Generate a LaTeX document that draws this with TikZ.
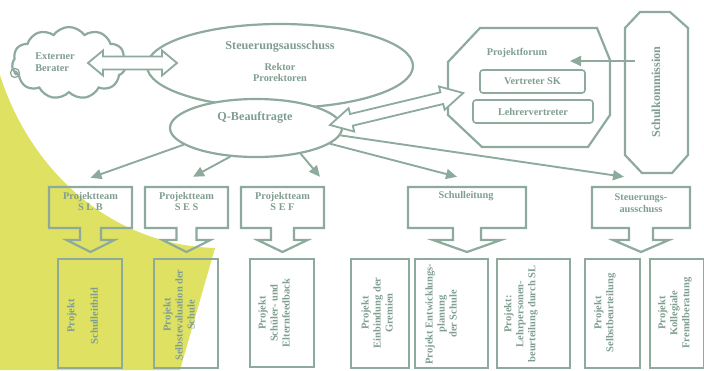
\documentclass[tikz,border=0pt]{standalone}
\usepackage{fontspec}
\setmainfont{Liberation Serif}
\usetikzlibrary{shapes.symbols,shapes.geometric,arrows.meta,calc}
\definecolor{lg}{HTML}{8DAA9D}
\definecolor{tg}{HTML}{7F9E90}
\definecolor{yel}{HTML}{DFE163}
\newcommand\teamshape[4]{% xl, xr, stem half, head half
  \pgfmathsetmacro\cx{(#1+#2)/2}
  \draw[shape line] (#1,187) -- (#2,187) -- (#2,228) -- (\cx+#3,228) -- (\cx+#3,240) -- (\cx+#4,240) -- (\cx,252) -- (\cx-#4,240) -- (\cx-#3,240) -- (\cx-#3,228) -- (#1,228) -- cycle;}
\begin{document}
\begin{tikzpicture}[x=1pt,y=-1pt,
  shape line/.style={draw=lg, line width=2.2pt, line join=miter},
  conn/.style={draw=lg, line width=1.9pt, -{Triangle[length=11pt,width=10pt]}},
  txt/.style={text=tg, font=\fontsize{10.3}{11.5}\selectfont\bfseries, inner sep=0pt, align=center},
  bigtxt/.style={txt, font=\fontsize{12.2}{14}\selectfont\bfseries},
  vtxt/.style={txt, rotate=90, font=\fontsize{10.5}{12}\selectfont\bfseries},
  teambox/.style={minimum width=#1, minimum height=41pt, inner sep=0pt},
  projbox/.style={shape line, minimum width=#1, minimum height=109pt, inner sep=0pt, anchor=north west}
]
\useasboundingbox (0,0) rectangle (704,370);
% yellow background shape
\fill[yel] (0,75) .. controls (30,170) and (110,245) .. (215,248) -- (180,370) -- (0,370) -- cycle;

% Steuerungsausschuss ellipse
\node[ellipse, shape line, fill=white, minimum width=266pt, minimum height=84pt] (sa) at (280,66) {};
\node[bigtxt] (satitle) at (280,47) {Steuerungsausschuss};
\node[txt] (rektor) at (280,67) {Rektor};
\node[txt] (prorekt) at (280,78) {Prorektoren};

% Q-Beauftragte ellipse
\node[ellipse, shape line, fill=white, minimum width=172pt, minimum height=58pt] (q) at (256,128) {};
\node[bigtxt] (qtitle) at (255,118) {Q-Beauftragte};

% cloud
\node[cloud, shape line, cloud puffs=11, cloud puff arc=110, aspect=1.6, minimum width=114pt, minimum height=72pt, fill=white] (cloud) at (69,63) {};
\node[txt, align=left] (ext) at (55,62) {Externer\\Berater};
\draw[lg, line width=1.3pt] (15,73) circle (4.5);
\draw[lg, line width=1.1pt] (16,73) circle (1.8);

% double arrow cloud <-> Steuerungsausschuss
\draw[shape line, line width=1.8pt, fill=white] (88,63) -- (103,50.5) -- (103,56.5) -- (162,56.5) -- (162,50.5) -- (177,63) -- (162,75.5) -- (162,69.5) -- (103,69.5) -- (103,75.5) -- cycle;

% Projektforum octagon
\draw[shape line] (480,28) -- (597,28) -- (610,60) -- (610,115) -- (588,147) -- (482,147) -- (448,115) -- (448,62) -- cycle;
\node[txt] (pftitle) at (517,53) {Projektforum};
\node[txt, draw=lg, line width=1.6pt, rounded corners=3pt, minimum width=105pt, minimum height=23pt] (vsk) at (532.5,81.5) {Vertreter SK};
\node[txt, draw=lg, line width=1.6pt, rounded corners=3pt, minimum width=120pt, minimum height=23pt] (lv) at (533,111.5) {Lehrervertreter};

% double arrow Q <-> Projektforum
\draw[shape line, line width=1.8pt, fill=white, shift={(330,125)}, rotate=13.5] (0,0) -- (22,-12) -- (22,-6) -- (115,-6) -- (115,-12) -- (137,0) -- (115,12) -- (115,6) -- (22,6) -- (22,12) -- cycle;

% Schulkommission
\draw[shape line] (640,12) -- (670,12) -- (688,28) -- (688,155) -- (672,173) -- (642,173) -- (625,155) -- (625,28) -- cycle;
\node[bigtxt, rotate=90] (sk) at (656,92) {Schulkommission};
\coordinate (skout) at (635,61);
\coordinate (pfin) at (570,61);
\draw[conn] (skout) -- (pfin);

% team boxes with arrows
\teamshape{49}{132}{10.5}{24}
\teamshape{145}{228}{10}{24}
\teamshape{241}{324}{11.5}{25}
\teamshape{408}{526}{14}{34}
\teamshape{592}{690}{12}{28}
\node[teambox=83pt] (slb) at (90.5,207.5) {};
\node[teambox=83pt] (ses) at (186.5,207.5) {};
\node[teambox=83pt] (sef) at (282.5,207.5) {};
\node[teambox=118pt] (sl) at (467,207.5) {};
\node[teambox=98pt] (st) at (641,207.5) {};
\node[txt] (slbt) at (90.5,201.5) {Projektteam\\S L B};
\node[txt] (sest) at (186.5,201.5) {Projektteam\\S E S};
\node[txt] (seft) at (282.5,201.5) {Projektteam\\S E F};
\node[txt] (slt) at (466,196) {Schulleitung};
\node[txt] (stt) at (641,203) {Steuerungs-\\ausschuss};

% connectors from Q
\draw[conn] (q.193) -- ($(slb.north)+(0,-9)$);
\draw[conn] (q.228) -- ($(ses.north)+(6.5,-10)$);
\draw[conn] (q.-30) -- ($(sef.north)+(37.5,-10)$);
\draw[conn] (q.-12) -- ($(sl.north)+(-10,-10)$);
\draw[conn] (q.-5) -- ($(st.north)+(-17,-10)$);

% project boxes
\node[projbox=64pt] (p1) at (57,258) {};
\node[projbox=64pt] (p2) at (153,258) {};
\node[projbox=64pt, minimum height=108pt] (p3) at (249,258) {};
\node[projbox=58pt] (p4) at (350,258) {};
\node[projbox=73pt] (p5) at (414,258) {};
\node[projbox=73pt] (p6) at (496,258) {};
\node[projbox=55pt] (p7) at (584,258) {};
\node[projbox=54pt] (p8) at (649,258) {};
\node[vtxt] (t1) at (82.5,316) {Projekt\\[11.5pt]Schulleitbild};
\node[vtxt] (t2) at (179,315) {Projekt\\Selbstevaluation der\\Schule};
\node[vtxt] (t3) at (274,313) {Projekt\\Schüler- und\\Elternfeedback};
\node[vtxt] (t4) at (377,313) {Projekt\\Einbindung der\\Gremien};
\node[vtxt] (t5) at (441,314) {Projekt Entwicklungs-\\planung\\der Schule};
\node[vtxt] (t6) at (521,314) {Projekt:\\Lehrpersonen-\\beurteilung durch SL};
\node[vtxt] (t7) at (605,313) {Projekt\\Selbstbeurteilung};
\node[vtxt] (t8) at (675,313) {Projekt\\Kollegiale\\Fremdberatung};
\end{tikzpicture}
\end{document}
